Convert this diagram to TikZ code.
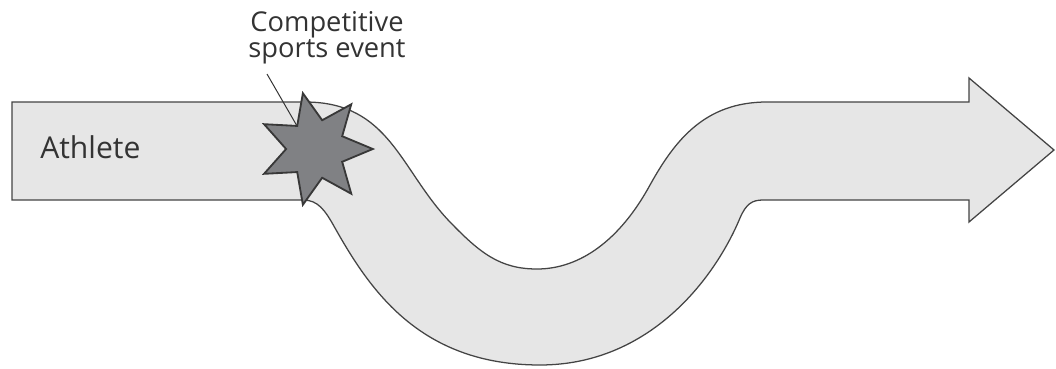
\documentclass[tikz,border=0pt]{standalone}
\usepackage{fontspec}
\setmainfont{Open Sans}
\usetikzlibrary{shapes.geometric}
\definecolor{bandfill}{HTML}{E6E6E6}
\definecolor{bandline}{HTML}{444444}
\definecolor{burstfill}{HTML}{808184}
\definecolor{burstline}{HTML}{383838}
\definecolor{inkgray}{HTML}{333333}

\begin{document}
\begin{tikzpicture}[x=0.025cm,y=-0.025cm,
  band/.style={draw=bandline, fill=bandfill, line width=0.9pt, line join=miter},
  burst/.style={star, star points=7, star point ratio=1.94, shape border rotate=-90,
    minimum size=2.86cm, inner sep=0pt, draw=burstline, fill=burstfill, line width=1.3pt},
  leader/.style={draw=inkgray, line width=0.7pt}]
  \useasboundingbox (0,0) rectangle (1056,368);

  % bent arrow
  \draw[band] (12,102) -- (305,102)
    .. controls (390,102) and (400,170) .. (450,222)
    .. controls (480,253) and (500,269) .. (537,269)
    .. controls (580,269) and (620,240) .. (650,185)
    .. controls (675,140) and (705,102) .. (767,102)
    -- (969,102) -- (969,78) -- (1054,150) -- (969,222) -- (969,200) -- (763,200)
    .. controls (752,200) and (746,204) .. (740,218)
    .. controls (715,278) and (650,365) .. (540,365)
    .. controls (420,365) and (370,290) .. (335,228)
    .. controls (325,210) and (318,200) .. (303,200)
    -- (12,200) -- cycle;

  \node[anchor=base west, inner sep=0pt, text=inkgray,
    font=\fontsize{21.4pt}{25pt}\selectfont] (ath) at (40,158) {Athlete};

  % the event
  \node[burst] (ev) at (315.6,149) {};
  \node[anchor=north, align=center, inner sep=0pt, text=inkgray,
    font=\fontsize{19.4pt}{16.5pt}\selectfont] (lbl) at (327,11) {Competitive\\sports event};
  \coordinate (tail) at (267,74);
  \draw[leader] (tail) -- (ev.inner point 3);
\end{tikzpicture}
\end{document}
